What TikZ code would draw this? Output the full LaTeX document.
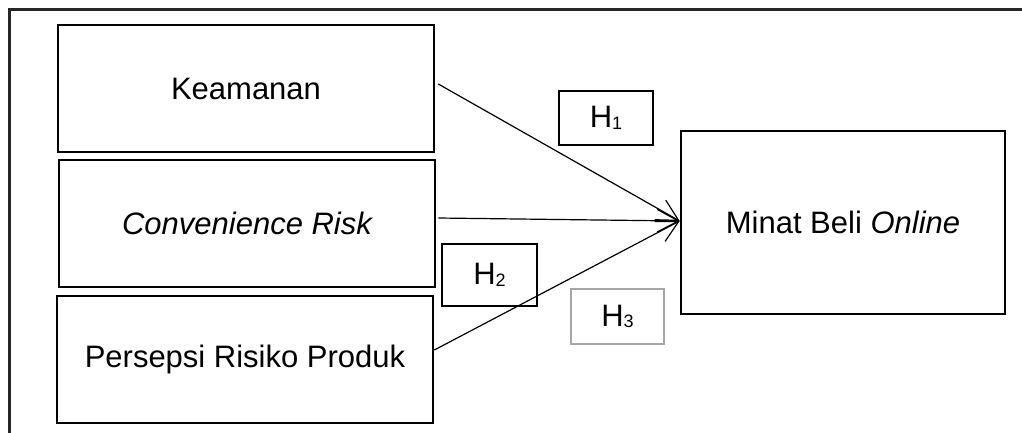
\documentclass[tikz,border=0pt]{standalone}
\usepackage{fontspec}
\setmainfont{Liberation Sans}
\usetikzlibrary{arrows.meta,calc}
\newcommand{\hsub}[1]{\fontsize{18pt}{18pt}\selectfont\raisebox{-0.15ex}{#1}}
\tikzset{
  varbox/.style={draw=black, line width=2.6pt, minimum width=376pt, minimum height=127pt, inner sep=0pt, font=\fontsize{31pt}{36pt}\selectfont},
  hbox/.style={draw=black, line width=2.2pt, inner sep=0pt, font=\fontsize{31pt}{36pt}\selectfont},
  link/.style={line width=1.2pt, -{Straight Barb[angle=56:24pt]}}
}
\begin{document}
\begin{tikzpicture}[x=1pt,y=-1pt]
\useasboundingbox (0,0) rectangle (1022,432);
\draw[line width=3pt, black!85, line cap=rect] (9,432) -- (9,9) -- (1022,9);
\node[varbox] (k) at (246,88.5) {Keamanan};
\node[varbox] (c) at (247,223.5) {\itshape Convenience Risk};
\node[varbox] (p) at (245,359.5) {Persepsi Risiko Produk};
\node[varbox, minimum width=324pt, minimum height=183pt] (m) at (843,222.5) {Minat Beli \textit{Online}};
\node[hbox, minimum width=94pt, minimum height=54pt] (h1) at (606,118) {H\hsub{1}};
\node[hbox, minimum width=95pt, minimum height=62pt] (h2) at (489.5,275) {H\hsub{2}};
\node[hbox, draw=black!35, minimum width=93pt, minimum height=55pt] (h3) at (617.5,316.5) {H\hsub{3}};
\coordinate (tip) at ($(m.west)+(0,-1.5)$);
\draw[link] ($(k.east)+(3,-4.5)$) -- (tip);
\draw[link] ($(c.east)+(2,-5.5)$) -- (tip);
\draw[link] ($(p.east)+(0,-9.5)$) -- (tip);
\end{tikzpicture}
\end{document}
